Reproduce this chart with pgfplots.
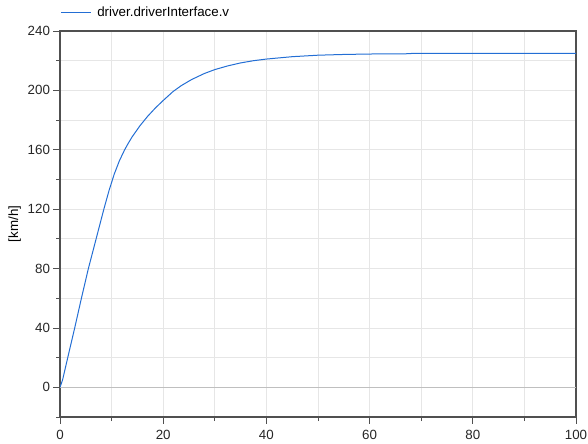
\documentclass[border=0pt]{standalone}
\usepackage{pgfplots}
\pgfplotsset{compat=1.18}
\usepackage{fontspec}
\setmainfont{Liberation Sans}
\definecolor{curve}{RGB}{35,110,212}
\definecolor{gridc}{RGB}{230,230,230}
\definecolor{axc}{RGB}{80,80,80}
\begin{document}
\begin{tikzpicture}
\begin{axis}[
  name=ax,
  scale only axis,
  width=387pt, height=289.5pt,
  xmin=0, xmax=100, ymin=-20, ymax=240,
  xtick={0,20,...,100}, minor xtick={10,30,...,90},
  ytick={0,40,...,240}, minor ytick={-20,20,...,220},
  tick align=outside,
  xtick pos=bottom, ytick pos=left,
  major tick length=5pt, minor tick length=3pt,
  every tick/.style={axc, line width=0.6pt},
  grid=both,
  major grid style={gridc, line width=0.6pt},
  minor grid style={gridc, line width=0.6pt},
  axis line style={axc, line width=0.8pt},
  /pgf/number format/assume math mode=true,
  tick label style={font=\fontsize{10}{12}\selectfont, text=black!85},
  yticklabel style={xshift=1pt},
  xticklabel style={yshift=-1.5pt},
  ylabel={[km/h]},
  ylabel style={at={(rel axis cs:0,0.5)}, anchor=center, yshift=34pt, font=\fontsize{10}{12}\selectfont},
  legend style={at={(rel axis cs:0,1)}, anchor=south west, xshift=-0.5pt, yshift=6.5pt, draw=none, fill=none, font=\fontsize{10}{12}\selectfont, inner sep=1pt},
  legend cell align=left,
  legend image code/.code={\draw[#1, line width=0.75pt] (0pt,0pt) -- (22pt,0pt); \path (24.5pt,0pt);},
]
\addplot[draw=gray!50, line width=0.8pt, forget plot] coordinates {(0,0) (100,0)};
\addplot[curve, line width=0.75pt] coordinates {
(0,0) (0.5,5) (1,12.5) (1.5,20) (2.85,40) (4.15,60) (5.5,80) (7.0,100) (8.5,120)
(9.5,132.5) (10.5,143.5) (11.5,152.5) (12.5,159.8) (13.25,164.5) (14,168.8) (15.5,176.2)
(17,182.6) (18.5,188.2) (20,193.2) (21.9,199.2) (23.5,203.2) (25.5,207.3) (28,211.4)
(30,214) (32.5,216.5) (35,218.5) (37.5,220) (40,221.1) (45,222.7) (50,223.7) (55,224.2)
(60,224.5) (68,224.7) (68.1,225) (100,225)
};
\addlegendentry{driver.driverInterface.v}
\end{axis}
\pgfresetboundingbox
\path[use as bounding box] ([shift={(-45pt,-19.5pt)}]ax.south west) rectangle ([shift={(9pt,23.25pt)}]ax.north east);
\end{tikzpicture}
\end{document}
